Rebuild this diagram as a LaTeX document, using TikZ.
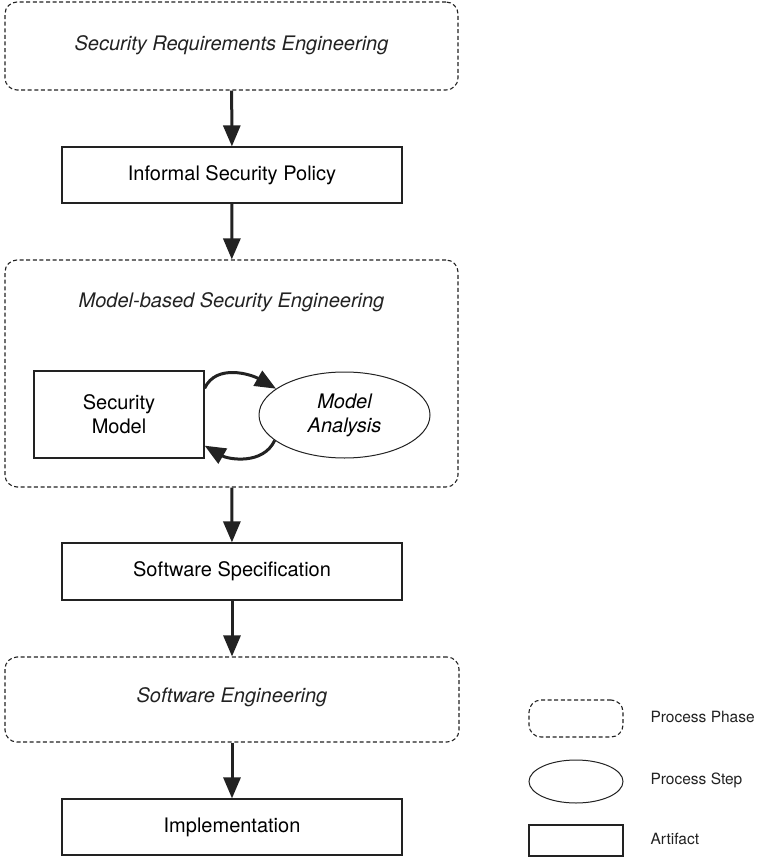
\documentclass[tikz,border=0pt]{standalone}
\usepackage{fontspec}
\setmainfont{TeX Gyre Heros}
\usetikzlibrary{arrows.meta,positioning,shapes.geometric}
\definecolor{ink}{HTML}{222222}
\tikzset{
  phase/.style={draw=ink,line width=1.1pt,dash pattern=on 4pt off 2.6pt,rounded corners=12pt,inner sep=0pt},
  artifact/.style={draw=ink,line width=1.2pt,minimum width=340pt,minimum height=56pt,inner sep=0pt,
    align=center,font=\fontsize{20}{24}\selectfont},
  stepnode/.style={ellipse,draw=ink,line width=1pt,inner sep=0pt,align=center,
    font=\fontsize{20}{24}\selectfont\itshape},
  title/.style={font=\fontsize{20}{24}\selectfont\itshape,text=ink},
  flow/.style={-{Triangle[length=21pt,width=17pt]},line width=3pt,draw=ink},
  legend/.style={anchor=west,font=\fontsize{15.5}{18}\selectfont,text=ink}
}
\begin{document}
\begin{tikzpicture}[x=1pt,y=-1pt]
  \useasboundingbox (0,0) rectangle (756,858);

  % Phases and artifacts
  \node[phase,minimum width=453pt,minimum height=88pt] (sre) at (231.5,46) {};
  \node[title] (sretitle) at (231.5,45) {Security Requirements Engineering};
  \node[artifact] (isp) at (232,175) {Informal Security Policy};

  \node[phase,minimum width=453pt,minimum height=227pt] (mbse) at (231.5,373.5) {};
  \node[title] (mbsetitle) at (231.5,302) {Model-based Security Engineering};
  \node[artifact,minimum width=170pt,minimum height=87pt] (sm) at (119,414.5) {Security\\Model};
  \node[stepnode,minimum width=171pt,minimum height=86pt] (ma) at (344.5,415) {Model\\Analysis};

  \node[artifact,minimum height=57pt] (spec) at (232,571.5) {Software Specification};
  \node[phase,minimum width=454pt,minimum height=85pt] (se) at (232,699.5) {};
  \node[title] (setitle) at (232,697) {Software Engineering};
  \node[artifact] (impl) at (232,827) {Implementation};

  % Flow
  \draw[flow] (sre) -- (isp);
  \draw[flow] (isp) -- (mbse);
  \draw[flow] (mbse) -- (spec);
  \draw[flow] (spec) -- (se);
  \draw[flow] (se) -- (impl);
  \draw[flow] (sm.17) to[out=65,in=150] (ma.159);
  \draw[flow] (ma.200) to[out=-115,in=-30] (sm.-20);

  % Legend
  \node[phase,minimum width=94pt,minimum height=37pt] (lphase) at (576,718.5) {};
  \node[legend] (lphasetext) at (647,717) {Process Phase};
  \node[ellipse,draw=ink,line width=1pt,minimum width=94pt,minimum height=43pt] (lstep) at (576,781.5) {};
  \node[legend] (lsteptext) at (647,780) {Process Step};
  \node[draw=ink,line width=1.2pt,minimum width=94pt,minimum height=31pt] (lart) at (576,840.5) {};
  \node[legend] (larttext) at (647,839) {Artifact};
\end{tikzpicture}
\end{document}
